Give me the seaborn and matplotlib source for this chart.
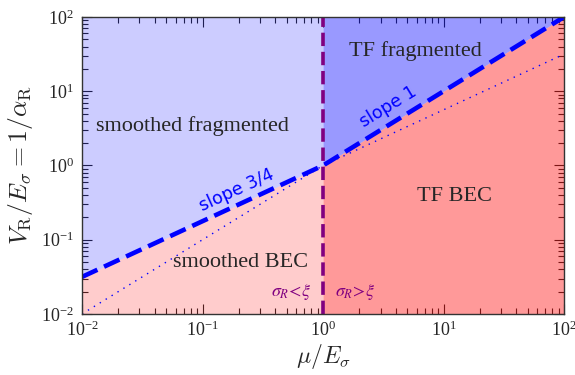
import numpy as np
import pandas as pd
import matplotlib
matplotlib.use("Agg")
import matplotlib.pyplot as plt
import seaborn as sns

# boundary lines (log-log straight segments)
mu = [1e-2, 1.0, 1e2]
v_crit = [0.0316, 1.0, 100.0]      # dashed: slope 3/4 then slope 1
v_dotted = [0.01, 1.0, 31.6]       # dotted: slope 1 then slope 3/4
mu_left = [1e-2, 1.0]
v_left = [0.0316, 1.0]
mu_right = [1.0, 1e2]
v_right = [1.0, 100.0]
v_min, v_max = 1e-2, 1e2
mu_split = 1.0

region_labels = ["smoothed fragmented", "TF fragmented", "TF BEC", "smoothed BEC"]
region_pos = [(0.083, 3.4), (5.8, 35.0), (12.4, 0.38), (0.205, 0.049)]

sns.set_style("ticks")
plt.rcParams["font.family"] = ["Liberation Serif", "DejaVu Serif"]
plt.rcParams["mathtext.fontset"] = "stix"

fig = plt.figure(figsize=(5.75, 3.75), dpi=100)
ax = fig.add_axes([0.1426, 0.1627, 0.8384, 0.792])
ax.set_xscale("log")
ax.set_yscale("log")

# shaded regions
ax.fill_between(mu_left, v_left, v_max, color="blue", alpha=0.2, lw=0)
ax.fill_between(mu_right, v_right, v_max, color="blue", alpha=0.4, lw=0)
ax.fill_between(mu_left, v_min, v_left, color="red", alpha=0.2, lw=0)
ax.fill_between(mu_right, v_min, v_right, color="red", alpha=0.4, lw=0)

df = pd.DataFrame({"mu": mu, "crit": v_crit, "dot": v_dotted})
sns.lineplot(data=df, x="mu", y="dot", ax=ax, color="blue", lw=1,
             linestyle=(0, (1, 4)))
sns.lineplot(data=df, x="mu", y="crit", ax=ax, color="blue", lw=3.3,
             linestyle="--")
ax.axvline(mu_split, color="purple", lw=2.6, linestyle="--")

ax.set_xlim(1e-2, 1e2)
ax.set_ylim(v_min, v_max)

for lab, (x, y) in zip(region_labels, region_pos):
    ax.text(x, y, lab, fontsize=16, ha="center", va="center")

ax.text(0.205, 0.36, "slope 3/4", color="blue", family="DejaVu Sans",
        fontsize=12.5, rotation=24.5, rotation_mode="anchor",
        ha="center", va="bottom")
ax.text(3.8, 4.8, "slope 1", color="blue", family="DejaVu Sans",
        fontsize=12.5, rotation=31.5, rotation_mode="anchor",
        ha="center", va="bottom")

ax.text(0.8, 0.0195, r"$\sigma_R\!<\!\xi$", color="purple", fontsize=13,
        ha="right", va="center")
ax.text(1.25, 0.0195, r"$\sigma_R\!>\!\xi$", color="purple", fontsize=13,
        ha="left", va="center")

ax.set_xlabel(r"$\mu/E_\sigma$", fontsize=17, math_fontfamily="cm",
              labelpad=1)
ax.set_ylabel(r"$V_\mathrm{R}/E_\sigma = 1/\alpha_\mathrm{R}$", fontsize=18.5,
              math_fontfamily="cm")

ax.tick_params(which="both", direction="in", top=True, right=True,
               labelsize=13)
ax.tick_params(axis="x", which="major", pad=5)
ax.tick_params(axis="y", which="major", pad=6)
ax.tick_params(which="major", length=7, width=0.8)
ax.tick_params(which="minor", length=4, width=0.8)
for s in ax.spines.values():
    s.set_linewidth(1.0)
    s.set_color("#333333")

fig.savefig("out.png", dpi=100)
